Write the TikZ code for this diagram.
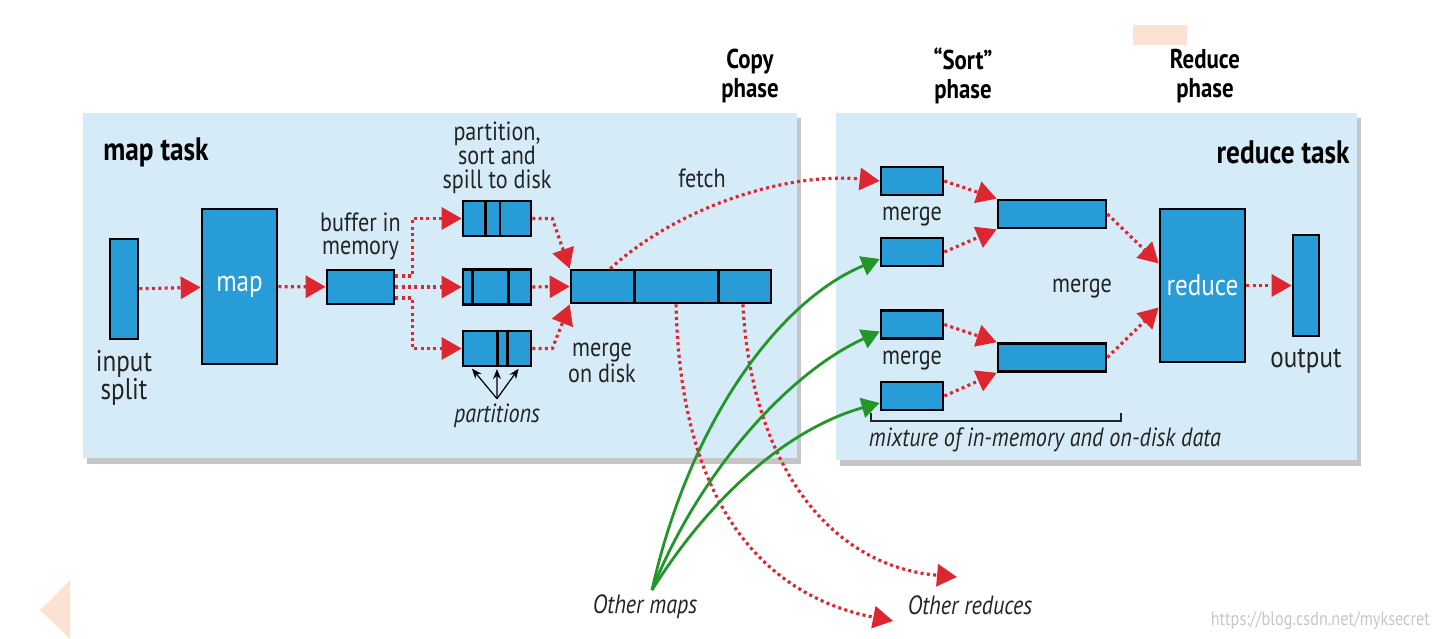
\documentclass[tikz,border=0pt]{standalone}
\usepackage{fontspec}
\setmainfont{PT Sans}[FakeStretch=0.84]
\usetikzlibrary{arrows.meta,positioning,calc,shadows}
\definecolor{panelblue}{RGB}{213,236,248}
\definecolor{boxblue}{RGB}{40,156,215}
\definecolor{flowred}{RGB}{222,38,48}
\definecolor{feedgreen}{RGB}{34,150,40}
\definecolor{labelgray}{RGB}{35,35,35}
\definecolor{peach}{RGB}{251,226,211}

\begin{document}
\begin{tikzpicture}[
  x=0.2mm, y=-0.2mm,
  font=\fontsize{15}{13.5}\selectfont,
  panel/.style={fill=panelblue, drop shadow={shadow xshift=0.7mm, shadow yshift=-1.1mm, fill=black!45}},
  blk/.style={draw, line width=1.5pt, fill=boxblue, inner sep=0pt},
  sep/.style={line width=1.5pt},
  flow/.style={draw=flowred, line width=1.8pt, dash pattern=on 1.7pt off 1.9pt, -{Triangle[length=4mm, width=4.4mm]}},
  feed/.style={draw=feedgreen, line width=1.6pt, -{Triangle[length=3.6mm, width=4mm]}},
  txt/.style={align=center, text=labelgray, inner sep=0pt},
  big/.style={txt, font=\fontsize{17}{16}\selectfont},
  phase/.style={align=center, inner sep=0pt, font=\fontsize{15.5}{16.5}\selectfont\bfseries},
  head/.style={inner sep=0pt, font=\fontsize{18.5}{19}\selectfont\bfseries},
  note/.style={txt, font=\fontsize{15}{13.5}\selectfont\itshape},
  ptr/.style={-{Stealth[length=2mm, width=1.6mm]}, line width=0.7pt, shorten >=1pt}
]
\useasboundingbox (0,0) rectangle (1443,639);

\fill[peach] (1133,25) rectangle (1187,45);
\fill[peach] (40,610) -- (70,580) -- (70,639) -- cycle;

\path[panel] (83,113) rectangle (797,458);
\path[panel] (836,113) rectangle (1357,460);

\node[phase] at (750,76) {Copy\\phase};
\node[phase] at (963,76) {“Sort”\\phase};
\node[phase] at (1205,76) {Reduce\\phase};
\node[head, anchor=west] at (103,152) {map task};
\node[head, anchor=east] at (1350,152) {reduce task};

\node[blk, minimum width=5.6mm, minimum height=20mm] (inp) at (124,289) {};
\node[blk, minimum width=15mm, minimum height=31mm, text=white, font=\fontsize{17}{17}\selectfont] (map) at (239.5,286.5) {map};
\node[blk, minimum width=13.4mm, minimum height=6.8mm] (buf) at (360.5,287) {};
\node[blk, minimum width=13.6mm, minimum height=7mm] (sp1) at (497,218.5) {};
\node[blk, minimum width=13.6mm, minimum height=7mm] (sp2) at (497,287) {};
\node[blk, minimum width=13.6mm, minimum height=7mm] (sp3) at (497,348.5) {};
\node[blk, minimum width=40mm, minimum height=6.6mm] (mrg) at (671,286.5) {};

\foreach \f in {0.34,0.54}
  \draw[sep] ($(sp1.north west)!\f!(sp1.north east)$) -- ($(sp1.south west)!\f!(sp1.south east)$);
\foreach \f in {0.15,0.66}
  \draw[sep] ($(sp2.north west)!\f!(sp2.north east)$) -- ($(sp2.south west)!\f!(sp2.south east)$);
\foreach \f in {0.51,0.65}
  \draw[sep] ($(sp3.north west)!\f!(sp3.north east)$) -- ($(sp3.south west)!\f!(sp3.south east)$);
\foreach \f in {0.32,0.735}
  \draw[sep] ($(mrg.north west)!\f!(mrg.north east)$) -- ($(mrg.south west)!\f!(mrg.south east)$);

\node[big, below=2mm of inp] {input\\split};
\node[txt, above=1.6mm of buf] {buffer in\\memory};
\node[txt, above=1.2mm of sp1] {partition,\\sort and\\spill to disk};
\node[note] (parts) at (497,416) {partitions};
\foreach \f in {0.13,0.5,0.82}
  \draw[ptr] ([yshift=1mm]parts.north) -- ($(sp3.south west)!\f!(sp3.south east)$);
\node[txt] at (602,363) {merge\\on disk};
\node[txt] at (702,178) {fetch};

\node[blk, minimum width=12.4mm, minimum height=5.6mm] (r1) at (912,181) {};
\node[blk, minimum width=12.4mm, minimum height=5.6mm] (r2) at (912,252) {};
\node[blk, minimum width=12.4mm, minimum height=5.6mm] (r3) at (912,324.5) {};
\node[blk, minimum width=12.4mm, minimum height=5.6mm] (r4) at (912,396) {};
\node[blk, minimum width=21.6mm, minimum height=5.6mm] (m1) at (1052,214) {};
\node[blk, minimum width=21.6mm, minimum height=5.6mm] (m2) at (1052,357.5) {};
\node[blk, minimum width=17mm, minimum height=30.6mm, text=white, font=\fontsize{17}{17}\selectfont] (red) at (1202.5,285.5) {reduce};
\node[blk, minimum width=5.2mm, minimum height=20.2mm] (out) at (1306,285.5) {};

\node[txt] at ($(r1)!0.5!(r2)$) {merge};
\node[txt] at ($(r3)!0.5!(r4)$) {merge};
\node[txt] at (1082,289) {merge};
\node[big, below=2.2mm of out] {output};
\draw[line width=0.7pt, draw=labelgray] (871,413) -- (871,421) -- (1121,421) -- (1121,413);
\node[note] at (1045,440) {mixture of in-memory and on-disk data};

\node[note] (omaps) at (645,607) {Other maps};
\node[note] (ored) at (970,605) {Other reduces};
\coordinate (src) at (652,590);

\draw[flow] (inp) -- (map);
\draw[flow] (map) -- (buf);
\draw[flow] ($(buf.east)+(0,-11)$) -- ++(17,0) |- (sp1.west);
\draw[flow] (buf.east) -- (sp2.west);
\draw[flow] ($(buf.east)+(0,11)$) -- ++(17,0) |- (sp3.west);
\draw[flow] (sp1.east) -- ++(20,0) -- (mrg.north west);
\draw[flow] (sp2.east) -- (mrg.west);
\draw[flow] (sp3.east) -- ++(20,0) -- (mrg.south west);

\draw[flow] ($(mrg.north west)!0.2!(mrg.north east)$) .. controls (680,205) and (790,172) .. (r1.west);
\draw[flow] ($(mrg.south west)!0.525!(mrg.south east)$) .. controls (680,500) and (760,595) .. (893,621);
\draw[flow] ($(mrg.south west)!0.855!(mrg.south east)$) .. controls (750,450) and (820,565) .. (957,577);

\draw[flow] (r1.east) -- (m1.north west);
\draw[flow] (r2.east) -- (m1.south west);
\draw[flow] (r3.east) -- (m2.north west);
\draw[flow] (r4.east) -- (m2.south west);
\draw[flow] (m1.east) -- ($(red.west)+(0,-22)$);
\draw[flow] (m2.east) -- ($(red.west)+(0,22)$);
\draw[flow] (red) -- (out);

\draw[feed] (src) .. controls (690,420) and (780,300) .. ([yshift=-1.4mm]r2.west);
\draw[feed] (src) .. controls (700,470) and (790,372) .. ([yshift=-1.4mm]r3.west);
\draw[feed] (src) .. controls (720,482) and (800,425) .. ([yshift=-1.4mm]r4.west);

\node[anchor=east, text=black!22, font=\fontsize{11}{12}\selectfont] (wm) at (1436,621) {https://blog.csdn.net/myksecret};
\end{tikzpicture}
\end{document}
